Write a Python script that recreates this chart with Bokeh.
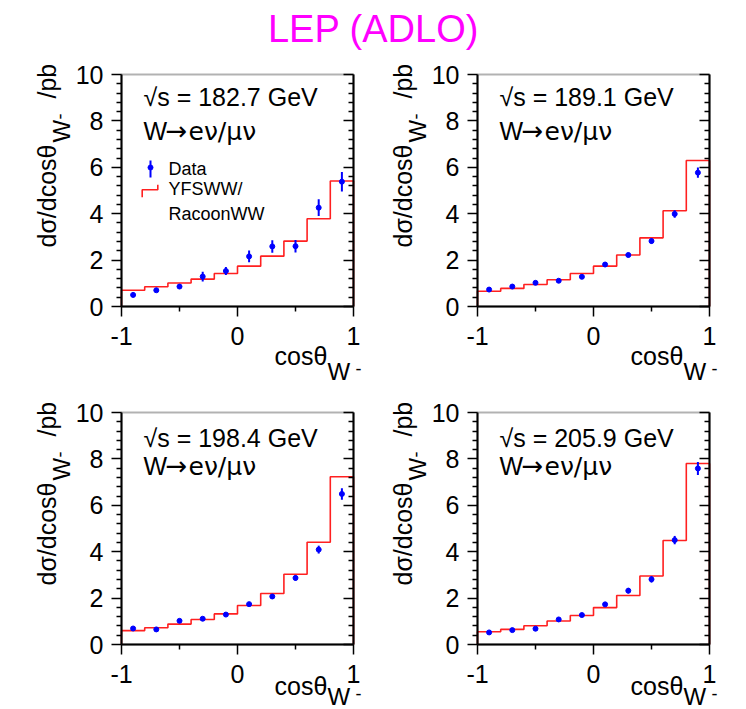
import numpy as np
from bokeh.plotting import figure
from bokeh.models import (Label, LinearAxis, FixedTicker, Range1d, ColumnDataSource,
                          BoxAnnotation, CustomJSTickFormatter)
from bokeh.layouts import column, row
from bokeh.embed import file_html
from bokeh.resources import INLINE

FONT = "Liberation Sans"
GREEK_FONT = "DejaVu Sans"

# ---------------- data ----------------
bin_edges = [-1.0, -0.8, -0.6, -0.4, -0.2, 0.0, 0.2, 0.4, 0.6, 0.8, 1.0]
bin_centers = [-0.9, -0.7, -0.5, -0.3, -0.1, 0.1, 0.3, 0.5, 0.7, 0.9]

energies = ["182.7", "189.1", "198.4", "205.9"]

mc_1827 = [0.70, 0.85, 1.01, 1.18, 1.42, 1.74, 2.17, 2.82, 3.78, 5.41]
data_1827 = [0.50, 0.70, 0.86, 1.29, 1.53, 2.16, 2.59, 2.60, 4.26, 5.38]
err_1827 = [0.10, 0.08, 0.10, 0.21, 0.17, 0.25, 0.27, 0.27, 0.36, 0.42]

mc_1891 = [0.66, 0.78, 0.95, 1.15, 1.42, 1.74, 2.22, 2.96, 4.13, 6.29]
data_1891 = [0.73, 0.86, 1.02, 1.11, 1.28, 1.81, 2.22, 2.82, 3.99, 5.77]
err_1891 = [0.05, 0.05, 0.06, 0.06, 0.07, 0.09, 0.10, 0.12, 0.16, 0.22]

mc_1984 = [0.60, 0.72, 0.88, 1.08, 1.32, 1.68, 2.20, 3.03, 4.41, 7.23]
data_1984 = [0.69, 0.65, 1.02, 1.11, 1.29, 1.74, 2.07, 2.87, 4.09, 6.49]
err_1984 = [0.05, 0.05, 0.06, 0.06, 0.07, 0.08, 0.10, 0.12, 0.17, 0.25]

mc_2059 = [0.55, 0.65, 0.81, 1.01, 1.25, 1.59, 2.11, 2.95, 4.48, 7.80]
data_2059 = [0.52, 0.62, 0.68, 1.08, 1.27, 1.73, 2.32, 2.81, 4.50, 7.59]
err_2059 = [0.05, 0.05, 0.06, 0.07, 0.08, 0.09, 0.12, 0.14, 0.18, 0.28]

y_ticks = [0, 2, 4, 6, 8, 10]
x_ticks = [-1, 0, 1]
x_tick_labels = {-1: "-1", 0: "0", 1: "1"}

title_text = "LEP (ADLO)"
legend_labels = ["Data", "YFSWW/", "RacoonWW"]

# ---------------- layout constants (page pixels) ----------------
FRAME_W = 232
FRAME_H = 232
K = 0.38  # rendered baseline offset (fraction of font size)


def make_panel(mc, dat, err, energy, legend, fig_x, fig_y, width, height, fx, fy, bottom_row):
    ppx = FRAME_W / 2.0
    ppy = FRAME_H / 10.0
    x0 = -1 - (fx - fig_x) / ppx
    y1 = 10 + (fy - fig_y) / ppy
    p = figure(width=width, height=height,
               x_range=Range1d(x0, x0 + width / ppx), y_range=Range1d(y1 - height / ppy, y1),
               x_axis_location=None, y_axis_location=None,
               output_backend="svg", toolbar_location=None, min_border=0)
    p.grid.visible = False
    p.outline_line_color = None

    def X(px):
        return -1 + (px - fx) / ppx

    def Y(py):
        return 10 - (py - fy) / ppy

    def put(px, py, text, size, font=FONT, align="left", rotated=False):
        if rotated:
            ax, ay, ang = px - K * size, py, np.pi / 2
        else:
            ax, ay, ang = px, py - K * size, 0
        p.add_layout(Label(x=X(ax), y=Y(ay), text=text, text_font=font,
                           text_font_size="%dpx" % size, text_color="black",
                           text_align=align, text_baseline="alphabetic", angle=ang))

    y_minor = [v for v in np.round(np.arange(0, 10.01, 0.4), 2) if v not in y_ticks]
    yt = FixedTicker(ticks=y_ticks, minor_ticks=y_minor)
    xt = FixedTicker(ticks=x_ticks, minor_ticks=[-0.5, 0.5])

    common = dict(axis_line_width=2, major_tick_line_width=1.5, minor_tick_line_width=1.5,
                  major_label_text_font=FONT, major_label_text_font_size="25px",
                  major_label_text_color="black")
    xax = LinearAxis(ticker=xt, fixed_location=0, bounds=(-1, 1),
                     major_tick_out=10, major_tick_in=0, minor_tick_out=5, minor_tick_in=0,
                     major_label_standoff=10, major_label_overrides=x_tick_labels, **common)
    p.add_layout(xax, "below")
    yax = LinearAxis(ticker=yt, fixed_location=-1, bounds=(0, 10),
                     major_tick_out=10, major_tick_in=0, minor_tick_out=5, minor_tick_in=0,
                     major_label_standoff=8, **common)
    p.add_layout(yax, "left")
    rax = LinearAxis(ticker=yt, fixed_location=1, bounds=(0, 10),
                     major_tick_in=10, major_tick_out=0, minor_tick_in=5, minor_tick_out=0,
                     formatter=CustomJSTickFormatter(code="return ''"),
                     major_label_standoff=0, axis_line_width=2,
                     major_tick_line_width=1.5, minor_tick_line_width=1.5)
    p.add_layout(rax, "right")
    p.add_layout(BoxAnnotation(left=-1, right=1, bottom=0, top=10, fill_color=None,
                               line_color="black", line_width=2))

    # histogram outline built from bin edges & MC values
    xs = [bin_edges[0]]
    ys = [0.0]
    for i, v in enumerate(mc):
        xs += [bin_edges[i], bin_edges[i + 1]]
        ys += [v, v]
    xs.append(bin_edges[-1])
    ys.append(0.0)
    p.line(xs, ys, line_color="#ff2020", line_width=1.6)

    src = ColumnDataSource(dict(x=bin_centers, y=dat,
                                lo=[d - e for d, e in zip(dat, err)],
                                hi=[d + e for d, e in zip(dat, err)]))
    p.segment(x0="x", y0="lo", x1="x", y1="hi", source=src, line_color="blue", line_width=2)
    p.scatter(x="x", y="y", source=src, size=5, fill_color="blue", line_color="blue")

    l1, l2 = (35, 63) if bottom_row else (32, 66)
    put(fx + 22, fy + l1, "\u221as = %s GeV" % energy, 25)
    put(fx + 22, fy + l2, "W", 25)
    put(fx + 44, fy + l2, "\u2192", 26, font=GREEK_FONT)
    put(fx + 67, fy + l2, "e\u03bd/\u03bc\u03bd", 25, font=GREEK_FONT)

    if legend:
        p.segment(x0=[X(fx + 29)], y0=[Y(fy + 103)], x1=[X(fx + 29)], y1=[Y(fy + 86)],
                  line_color="blue", line_width=2)
        p.scatter(x=[X(fx + 29)], y=[Y(fy + 93)], size=5, fill_color="blue", line_color="blue")
        p.line([X(fx + 20.7), X(fx + 20.7), X(fx + 36.3), X(fx + 36.3)],
               [Y(fy + 122.7), Y(fy + 115.3), Y(fy + 115.3), Y(fy + 110.3)],
               line_color="#ff2020", line_width=1.6)
        put(fx + 47, fy + 101, legend_labels[0], 18)
        put(fx + 47, fy + 121, legend_labels[1], 18)
        put(fx + 47, fy + 146, legend_labels[2], 18)

    # x-axis title: cos theta_W^-
    bx = fy + FRAME_H
    c, w, m = (51, 61, 56) if bottom_row else (59, 74, 69)
    put(fx + 153, bx + c, "cos\u03b8", 25)
    put(fx + 206, bx + w, "W", 24)
    put(fx + 234, bx + m, "-", 18)

    # y-axis title: d sigma / d cos theta_W^- /pb  (rotated, reads upward)
    put(fx - 65, fy + 70, "d\u03c3/dcos\u03b8", 25, align="right", rotated=True)
    put(fx - 51, fy + 68, "W", 24, rotated=True)
    put(fx - 55, fy + 45, "-", 18, rotated=True)
    put(fx - 65, fy + 24, "/pb", 25, rotated=True)
    return p


title = figure(width=746, height=60, x_range=Range1d(0, 746), y_range=Range1d(0, 60),
               x_axis_location=None, y_axis_location=None, output_backend="svg",
               toolbar_location=None, min_border=0)
title.outline_line_color = None
title.grid.visible = False
title.add_layout(Label(x=373, y=60 - (43 - K * 38), text=title_text, text_align="center",
                       text_baseline="alphabetic", text_font=FONT,
                       text_font_size="38px", text_color="#ff00ff"))

p1 = make_panel(mc_1827, data_1827, err_1827, energies[0], True, 0, 60, 364, 330, 121, 74, False)
p2 = make_panel(mc_1891, data_1891, err_1891, energies[1], False, 364, 60, 366, 330, 477, 74, False)
p3 = make_panel(mc_1984, data_1984, err_1984, energies[2], False, 0, 390, 364, 319, 121, 412, True)
p4 = make_panel(mc_2059, data_2059, err_2059, energies[3], False, 364, 390, 366, 319, 477, 412, True)

layout = column(title, row(p1, p2), row(p3, p4))
open("out.html", "w").write(file_html(layout, INLINE))
